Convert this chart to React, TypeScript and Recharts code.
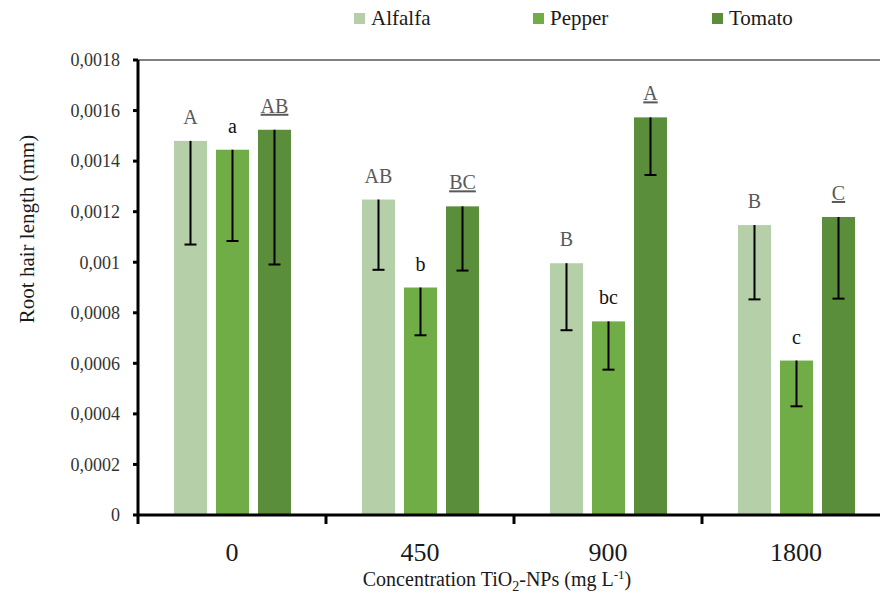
import { BarChart, Bar, XAxis, YAxis, Legend, LabelList, Label, ReferenceLine } from 'recharts';

const categories = ['0', '450', '900', '1800'];
const alfalfa = [0.00148, 0.001248, 0.000996, 0.001147];
const pepper = [0.001445, 0.0009, 0.000766, 0.000611];
const tomato = [0.001524, 0.001221, 0.001573, 0.001179];
const alfalfaErr = [0.00041, 0.000278, 0.000265, 0.000294];
const pepperErr = [0.000361, 0.000189, 0.000191, 0.000181];
const tomatoErr = [0.000533, 0.000254, 0.000228, 0.000323];
const alfalfaLetters = ['A', 'AB', 'B', 'B'];
const pepperLetters = ['a', 'b', 'bc', 'c'];
const tomatoLetters = ['AB', 'BC', 'A', 'C'];
const yTicks = [0, 0.0002, 0.0004, 0.0006, 0.0008, 0.001, 0.0012, 0.0014, 0.0016, 0.0018];

const FONT = 'Liberation Serif, DejaVu Serif, Times New Roman, serif';

const series = [
  { key: 'alfalfa', name: 'Alfalfa', color: '#B5CFA8', letterColor: '#595959', underline: false },
  { key: 'pepper', name: 'Pepper', color: '#70AD47', letterColor: '#111111', underline: false },
  { key: 'tomato', name: 'Tomato', color: '#5A8E3A', letterColor: '#595959', underline: true },
];

const data = categories.map((c, i) => ({
  conc: c,
  alfalfa: alfalfa[i],
  pepper: pepper[i],
  tomato: tomato[i],
  alfalfaErr: alfalfaErr[i],
  pepperErr: pepperErr[i],
  tomatoErr: tomatoErr[i],
  alfalfaLetter: alfalfaLetters[i],
  pepperLetter: pepperLetters[i],
  tomatoLetter: tomatoLetters[i],
}));

// bar + downward-only error whisker (no cap at the top)
const barWithError = (key: string) => (props: any) => {
  const { x, y, width, height, fill, payload } = props;
  const val = payload[key];
  const err = payload[key + 'Err'];
  const ePx = val ? (height * err) / val : 0;
  const cx = x + width / 2;
  return (
    <g>
      <rect x={x} y={y} width={width} height={height} fill={fill} />
      <line x1={cx} x2={cx} y1={y} y2={y + ePx} stroke="#000" strokeWidth={2} />
      <line x1={cx - 6} x2={cx + 6} y1={y + ePx} y2={y + ePx} stroke="#000" strokeWidth={2} />
    </g>
  );
};

const letterLabel = (color: string, underline: boolean) => (props: any) => {
  const { x, y, width, value } = props;
  return (
    <text
      x={x + width / 2}
      y={y - 17}
      textAnchor="middle"
      fill={color}
      style={{ fontFamily: FONT, fontSize: 20, textDecoration: underline ? 'underline' : 'none' }}
    >
      {value}
    </text>
  );
};

const YTick = (props: any) => {
  const { x, y, payload } = props;
  return (
    <text x={x} y={y} dy="0.35em" textAnchor="end" fill="#333" style={{ fontFamily: FONT, fontSize: 18 }}>
      {String(payload.value).replace('.', ',')}
    </text>
  );
};

const XTick = (props: any) => {
  const { x, y, payload } = props;
  const half = payload.offset ?? 94;
  return (
    <g>
      <line x1={x - half} x2={x - half} y1={y} y2={y + 9} stroke="#000" strokeWidth={3} />
      <text x={x} y={y + 46} textAnchor="middle" fill="#1a1a1a" style={{ fontFamily: FONT, fontSize: 26 }}>
        {payload.value}
      </text>
    </g>
  );
};

const renderXTitle = (props: any) => {
  const { viewBox } = props;
  return (
    <text
      x={viewBox.x + viewBox.width / 2 - 17}
      y={viewBox.y + 71}
      textAnchor="middle"
      fill="#1a1a1a"
      style={{ fontFamily: FONT, fontSize: 20 }}
    >
      Concentration TiO
      <tspan style={{ fontSize: 14 }} dy={5}>2</tspan>
      <tspan dy={-5}>-NPs (mg L</tspan>
      <tspan style={{ fontSize: 13 }} dy={-7}>-1</tspan>
      <tspan dy={7}>)</tspan>
    </text>
  );
};

const renderYTitle = (props: any) => {
  const { viewBox } = props;
  const cx = viewBox.x + 27;
  const cy = 229;
  return (
    <text
      x={cx}
      y={cy}
      transform={`rotate(-90 ${cx} ${cy})`}
      textAnchor="middle"
      dominantBaseline="central"
      fill="#1a1a1a"
      style={{ fontFamily: FONT, fontSize: 21 }}
    >
      Root hair length (mm)
    </text>
  );
};

const renderLegend = () => (
  <div
    style={{
      display: 'flex',
      height: 30,
      paddingLeft: 354,
      fontFamily: FONT,
      fontSize: 21,
      color: '#1a1a1a',
      alignItems: 'center',
    }}
  >
    {series.map((s) => (
      <div key={s.key} style={{ width: 179, display: 'flex', alignItems: 'center' }}>
        <span style={{ width: 11, height: 11, background: s.color, marginRight: 6, display: 'inline-block' }} />
        {s.name}
      </div>
    ))}
  </div>
);

export default function App() {
  return (
    <div
      style={{
        position: 'fixed',
        left: 0,
        top: 0,
        width: 880,
        height: 594,
        overflow: 'hidden',
        background: '#fff',
        fontFamily: FONT,
      }}
    >
      <BarChart
        width={900}
        height={594}
        data={data}
        margin={{ top: 30, right: 10, left: 0, bottom: 0 }}
        barSize={33}
        barGap={9}
        style={{ fontFamily: FONT }}
      >
        <Legend verticalAlign="top" content={renderLegend} wrapperStyle={{ top: 3, left: 0, width: 900 }} />
        <XAxis
          dataKey="conc"
          height={79}
          axisLine={{ stroke: '#000', strokeWidth: 3 }}
          tickLine={false}
          tickSize={0}
          tickMargin={0}
          tick={<XTick />}
          interval={0}
        >
          <Label content={renderXTitle} />
        </XAxis>
        <YAxis
          width={138}
          domain={[0, 0.0018]}
          ticks={yTicks}
          interval={0}
          axisLine={{ stroke: '#000', strokeWidth: 3 }}
          tickLine={{ stroke: '#000', strokeWidth: 3 }}
          tickSize={5}
          tickMargin={13}
          tick={<YTick />}
        >
          <Label content={renderYTitle} />
        </YAxis>
        <ReferenceLine y={0.0018} stroke="#000" strokeWidth={1} />
        {series.map((s) => (
          <Bar
            key={s.key}
            dataKey={s.key}
            name={s.name}
            fill={s.color}
            isAnimationActive={false}
            shape={barWithError(s.key)}
          >
            <LabelList dataKey={s.key + 'Letter'} content={letterLabel(s.letterColor, s.underline)} />
          </Bar>
        ))}
      </BarChart>
    </div>
  );
}
